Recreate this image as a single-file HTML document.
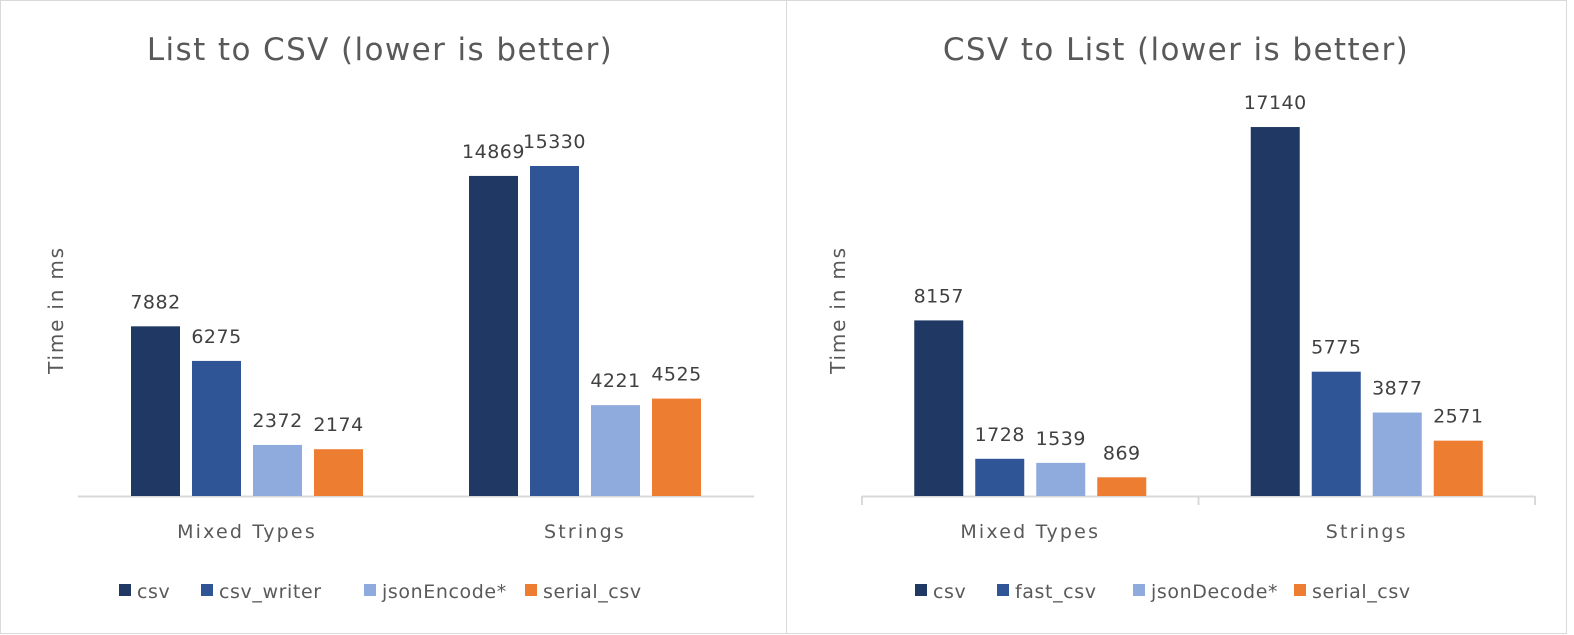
<!DOCTYPE html>
<html><head><meta charset="utf-8"><style>
html,body{margin:0;padding:0;background:#fff}
svg{display:block;font-family:"DejaVu Sans","Liberation Sans",sans-serif}
</style></head><body>
<svg id="svg" width="1574" height="635" xmlns="http://www.w3.org/2000/svg">
<rect x="0.5" y="0.5" width="786" height="633" fill="#fff" stroke="#d9d9d9"/>
<rect x="786.5" y="0.5" width="780" height="633" fill="#fff" stroke="#d9d9d9"/>
</svg>
<script>
const categories = ["Mixed Types", "Strings"];
const leftSeries = ["csv", "csv_writer", "jsonEncode*", "serial_csv"];
const leftValues = [[7882, 14869], [6275, 15330], [2372, 4221], [2174, 4525]];
const rightSeries = ["csv", "fast_csv", "jsonDecode*", "serial_csv"];
const rightValues = [[8157, 17140], [1728, 5775], [1539, 3877], [869, 2571]];
const colors = ["#1F3864", "#2F5597", "#8FAADC", "#ED7D31"];

const NS = "http://www.w3.org/2000/svg";
const svg = document.getElementById("svg");
function mk(tag, attrs, text) {
  const e = document.createElementNS(NS, tag);
  for (const k in attrs) e.setAttribute(k, attrs[k]);
  if (text !== undefined) e.textContent = text;
  svg.appendChild(e);
  return e;
}
const pxPerUnit = 330 / 15330;
const baseY = 496;
function yScale(v) { return baseY - v * pxPerUnit; }

function drawChart(cfg) {
  const { prefix, title, x0, x1, series, values, legendX, titleX, yTitleX } = cfg;
  const t = mk("text", { x: titleX, y: 60, "text-anchor": "middle", "font-size": 31, "letter-spacing": 1.4, fill: "#595959" }, title);
  
  
  const yt = mk("text", { x: yTitleX, y: 310, "text-anchor": "middle", "font-size": 20, "letter-spacing": 1.8, fill: "#595959", transform: `rotate(-90 ${yTitleX} 310)` }, "Time in ms");
  
  
  const ax = mk("line", { x1: x0, x2: x1, y1: baseY + 0.5, y2: baseY + 0.5, stroke: "#d9d9d9", "stroke-width": 2 });
  
  
  const catW = (x1 - x0) / categories.length;
  if (cfg.ticks) {
    for (let i = 0; i <= categories.length; i++) {
      const tk = mk("line", { x1: x0 + i * catW, x2: x0 + i * catW, y1: baseY, y2: baseY + 9, stroke: "#d9d9d9", "stroke-width": 2 });
      
      
    }
  }
  const bw = 49, gap = 12;
  const gw = series.length * bw + (series.length - 1) * gap;
  categories.forEach((c, ci) => {
    const cx = x0 + catW * (ci + 0.5);
    const cl = mk("text", { x: cx, y: 538, "text-anchor": "middle", "font-size": 19, "letter-spacing": 2.2, fill: "#595959" }, c);
    
    
    series.forEach((s, si) => {
      const v = values[si][ci];
      const bx = cx - gw / 2 + si * (bw + gap);
      const y = yScale(v);
      const r = mk("rect", { x: bx, y: y, width: bw, height: baseY - y, fill: colors[si] });
      
      
      const l = mk("text", { x: bx + bw / 2, y: y - 18, "text-anchor": "middle", "font-size": 19, "letter-spacing": 0.5, fill: "#404040" }, String(v));
      
      
    });
  });
  series.forEach((s, si) => {
    const lx = legendX[si];
    const sq = mk("rect", { x: lx, y: 584, width: 12, height: 12, fill: colors[si] });
    
    
    const lt = mk("text", { x: lx + 18, y: 598, "font-size": 19, "letter-spacing": 0.6, fill: "#595959" }, s);
    
    
  });
}
drawChart({ prefix: "left", title: "List to CSV (lower is better)", x0: 78, x1: 754, series: leftSeries, values: leftValues, legendX: [119, 201, 364, 525], titleX: 380, yTitleX: 63, ticks: false });
drawChart({ prefix: "right", title: "CSV to List (lower is better)", x0: 862, x1: 1535, series: rightSeries, values: rightValues, legendX: [915, 997, 1133, 1294], titleX: 1176, yTitleX: 845, ticks: true });
</script>
</body></html>
